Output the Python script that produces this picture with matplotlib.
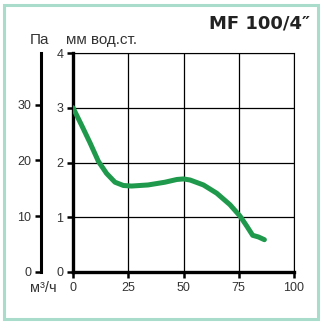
import matplotlib.pyplot as plt
from matplotlib.patches import Rectangle

plt.rcParams['font.family'] = ['Liberation Sans', 'DejaVu Sans']

# fan curve: flow (m3/h) vs static pressure (mm H2O)
flow = [0, 3.9, 7.7, 11.5, 15.2, 19, 22.8, 26.5, 34, 41.6, 47, 50, 53, 59, 65, 71, 75.6, 78.6, 81.3, 83.9, 86.6]
pressure = [3.0, 2.68, 2.36, 2.02, 1.8, 1.64, 1.58, 1.57, 1.59, 1.64, 1.69, 1.7, 1.68, 1.59, 1.44, 1.23, 1.02, 0.84, 0.67, 0.64, 0.59]

x_ticks = [0, 25, 50, 75, 100]
mm_ticks = [0, 1, 2, 3, 4]
pa_ticks = [0, 10, 20, 30]
MM_TO_PA = 9.81

W, H = 322, 324
fig = plt.figure(figsize=(W / 100, H / 100), dpi=100)
fig.patch.set_facecolor('white')

# light frame around the whole card
fig.add_artist(Rectangle((3.5 / W, 5.5 / H), 314 / W, 314 / H, transform=fig.transFigure,
                         fill=False, edgecolor='#a9dccb', lw=2.2, zorder=0))

ax = fig.add_axes([73 / W, (H - 272) / H, (294 - 73) / W, (272 - 53) / H])
ax.set_xlim(0, 100)
ax.set_ylim(0, 4)
ax.set_facecolor('none')
ax.set_xticks(x_ticks)
ax.set_yticks(mm_ticks)
ax.grid(True, color='black', lw=0.9)
for side in ['top', 'right']:
    ax.spines[side].set_linewidth(0.8)
for side in ['left', 'bottom']:
    ax.spines[side].set_linewidth(2.4)
ax.tick_params(axis='both', length=4.5, width=1.8, labelsize=9, labelcolor='#333333', pad=2.5)

ax.plot(flow, pressure, color='#1f9a4c', lw=3.6, solid_capstyle='round', solid_joinstyle='round', zorder=3)

# second pressure scale in Pa
pa = ax.secondary_yaxis(-0.145, functions=(lambda v: v * MM_TO_PA, lambda v: v / MM_TO_PA))
pa.set_yticks(pa_ticks)
pa.spines['left'].set_linewidth(2.2)
pa.tick_params(length=4.5, width=1.8, labelsize=9, labelcolor='#333333', pad=2.5)

fig.text(30 / W, 1 - 40 / H, 'Па', fontsize=11, color='#333333', va='center', ha='left')
fig.text(66 / W, 1 - 40 / H, 'мм вод.ст.', fontsize=11, color='#333333', va='center', ha='left')
fig.text(30 / W, 1 - 288 / H, 'м³/ч', fontsize=10.5, color='#333333', va='center', ha='left')
fig.text(310 / W, 1 - 24 / H, 'MF 100/4″', fontsize=13, fontweight='bold', color='#222222',
         va='center', ha='right', family=['DejaVu Sans'])

fig.savefig('out.png', dpi=100)
